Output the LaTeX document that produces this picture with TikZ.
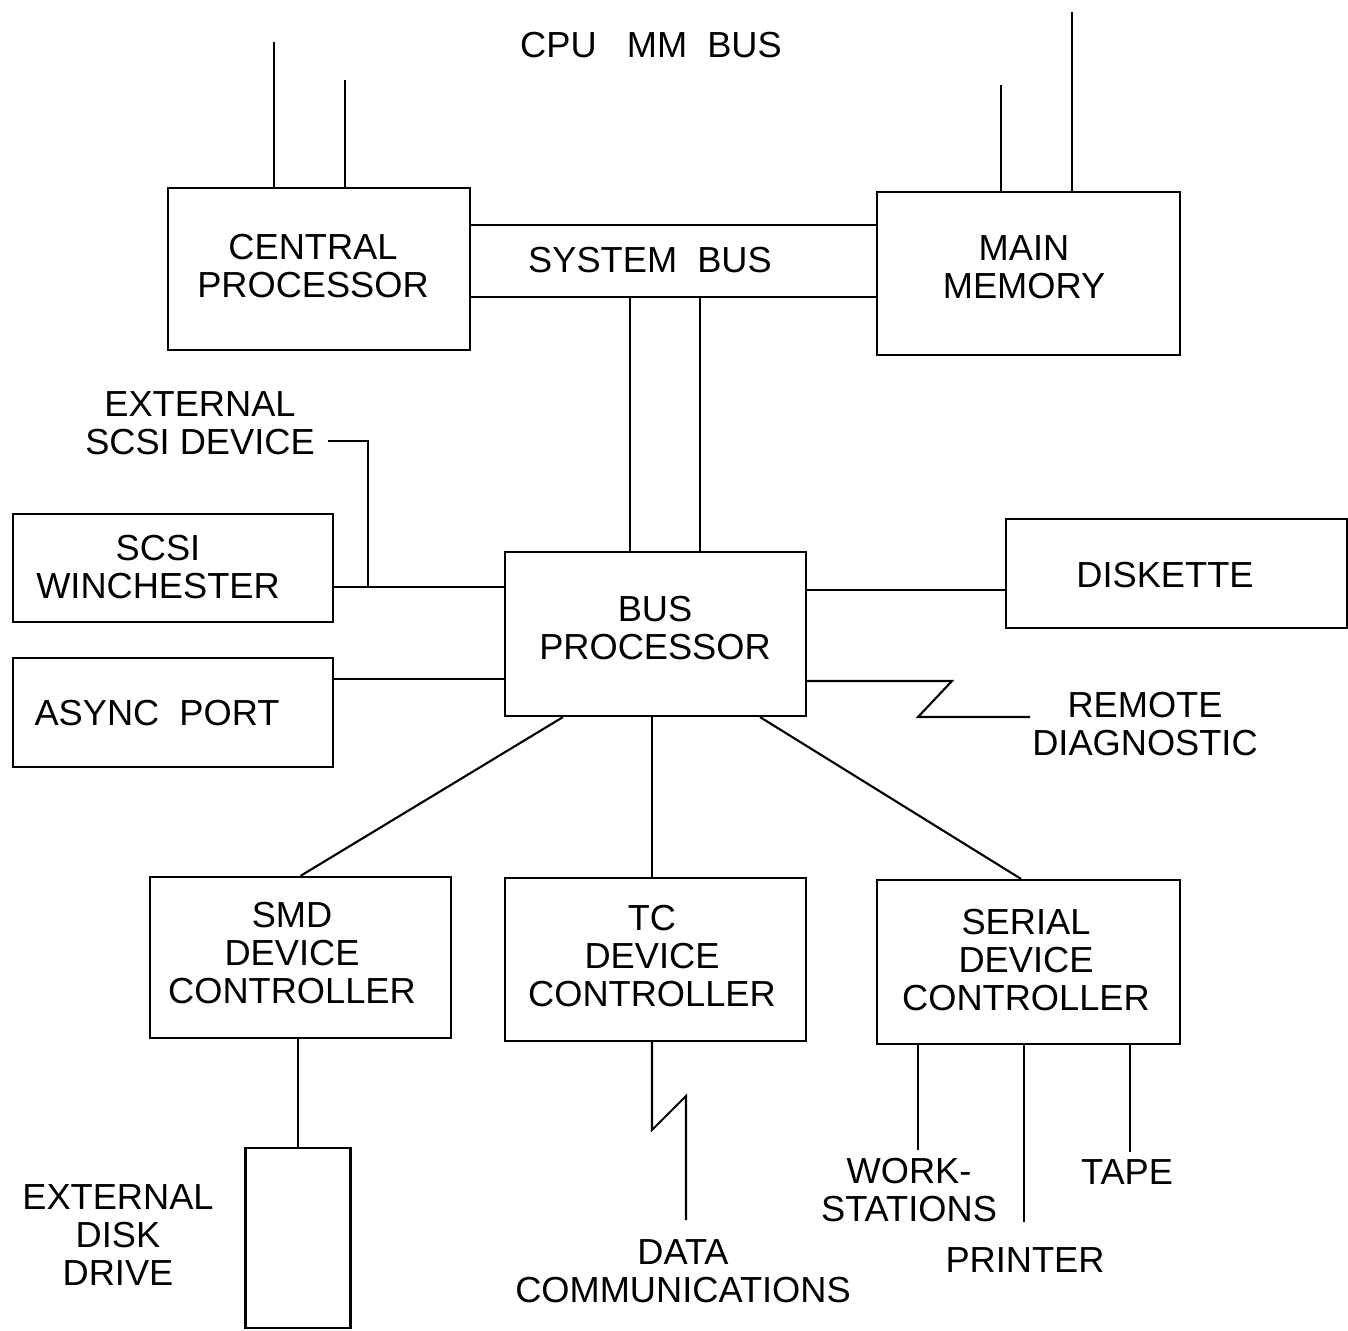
\documentclass[tikz,border=0pt]{standalone}
\usepackage{fontspec}
\setmainfont{Liberation Sans}
\usetikzlibrary{positioning,calc}

\begin{document}
\begin{tikzpicture}[
    x=0.01cm, y=-0.01cm,
    font=\fontsize{10.3}{10.8}\selectfont,
    unit/.style={rectangle, draw, line width=0.6pt, align=center, inner sep=0pt},
    lbl/.style={align=center, inner sep=0pt},
    wire/.style={line width=0.6pt},
    faint/.style={line width=0.4pt}
]
\useasboundingbox (0,0) rectangle (1348,1331);
% ----- top: CPU, memory and the buses -----
\node[unit, minimum width=3.02cm, minimum height=1.62cm] (cpu) at (319,269) {};
\node[lbl] (cputxt) at (313,266) {CENTRAL\\PROCESSOR};
\node[unit, minimum width=3.03cm, minimum height=1.63cm] (mem) at (1028.5,273.5) {};
\node[lbl] (memtxt) at (1024,267) {MAIN\\MEMORY};
\node[lbl] (cpumm) at (651,45) {CPU\ \ \ MM\ \ BUS};
\node[lbl] (sysbus) at (650,260) {SYSTEM\ \ BUS};
\coordinate (cpua) at (274,42);
\coordinate (cpub) at (345,80);
\coordinate (mema) at (1001,85);
\coordinate (memb) at (1072,12);
\foreach \c in {cpua,cpub} \draw[faint] (\c) -- (\c |- cpu.north);
\foreach \c in {mema,memb} \draw[faint] (\c) -- (\c |- mem.north);
\coordinate (sbtop) at (650,225);
\coordinate (sbbot) at (650,297);
\draw[faint] (cpu.east |- sbtop) -- (mem.west |- sbtop);
\draw[faint] (cpu.east |- sbbot) -- (mem.west |- sbbot);
% ----- middle: bus processor and its neighbours -----
\node[unit, minimum width=3.01cm, minimum height=1.64cm] (bus) at (655.5,634) {};
\node[lbl] (bustxt) at (655,628) {BUS\\PROCESSOR};
\coordinate (bl) at (630,297);
\coordinate (br) at (700,297);
\foreach \c in {bl,br} \draw[wire] (\c) -- (\c |- bus.north);
\node[unit, minimum width=3.20cm, minimum height=1.08cm] (scsi) at (173,568) {};
\node[lbl] (scsitxt) at (158,567) {SCSI\\WINCHESTER};
\node[unit, minimum width=3.20cm, minimum height=1.09cm] (async) at (173,712.5) {};
\node[lbl] (asynctxt) at (157,713) {ASYNC\ \ PORT};
\node[unit, minimum width=3.41cm, minimum height=1.09cm] (disk) at (1176.5,573.5) {};
\node[lbl] (disktxt) at (1165,575) {DISKETTE};
\node[lbl] (extscsi) at (200,423) {EXTERNAL\\SCSI DEVICE};
\node[lbl] (remote) at (1145,724) {REMOTE\\DIAGNOSTIC};
\coordinate (scsiy) at (420,587);
\coordinate (exttap) at (328,441);
\coordinate (extj) at (368,587);
\draw[wire] (scsi.east |- scsiy) -- (bus.west |- scsiy);
\draw[wire] (exttap) -| (extj);
\coordinate (asy) at (420,679);
\draw[wire] (async.east |- asy) -- (bus.west |- asy);
\coordinate (dky) at (900,590);
\draw[wire] (bus.east |- dky) -- (disk.west |- dky);
\coordinate (rd1) at (952,681);
\coordinate (rd2) at (918,717);
\coordinate (rd3) at (1030,717);
\draw[wire] (bus.east |- rd1) -- (rd1) -- (rd2) -- (rd3);
% ----- bottom: device controllers -----
\node[unit, minimum width=3.01cm, minimum height=1.61cm] (smd) at (300.5,957.5) {};
\node[lbl] (smdtxt) at (292,953) {SMD\\DEVICE\\CONTROLLER};
\node[unit, minimum width=3.01cm, minimum height=1.63cm] (tc) at (655.5,959.5) {};
\node[lbl] (tctxt) at (652,956) {TC\\DEVICE\\CONTROLLER};
\node[unit, minimum width=3.03cm, minimum height=1.64cm] (serial) at (1028.5,962) {};
\node[lbl] (serialtxt) at (1026,960) {SERIAL\\DEVICE\\CONTROLLER};
\draw[wire] ([xshift=-0.925cm]bus.south) -- (smd.north);
\draw[wire] ([xshift=-0.035cm]bus.south) -- ([xshift=-0.035cm]tc.north);
\draw[wire] ([xshift=1.045cm]bus.south) -- ([xshift=-0.075cm]serial.north);
% ----- peripherals -----
\node[unit, minimum width=1.05cm, minimum height=1.80cm] (drive) at (298,1238) {};
\node[lbl] (extdisk) at (118,1235) {EXTERNAL\\DISK\\DRIVE};
\draw[wire] (drive.north |- smd.south) -- (drive.north);
\node[lbl] (datacom) at (683,1271) {DATA\\COMMUNICATIONS};
\coordinate (dc1) at (652,1130);
\coordinate (dc2) at (686,1096);
\coordinate (dc3) at (686,1220);
\draw[wire] (dc1 |- tc.south) -- (dc1) -- (dc2) -- (dc3);
\node[lbl] (work) at (909,1190) {WORK-\\STATIONS};
\node[lbl] (printer) at (1025,1260) {PRINTER};
\node[lbl] (tape) at (1127,1172) {TAPE};
\coordinate (ws) at (918,1150);
\coordinate (pr) at (1024,1222);
\coordinate (tp) at (1130,1152);
\foreach \c in {ws,pr,tp} \draw[wire] (\c |- serial.south) -- (\c);
\end{tikzpicture}
\end{document}
